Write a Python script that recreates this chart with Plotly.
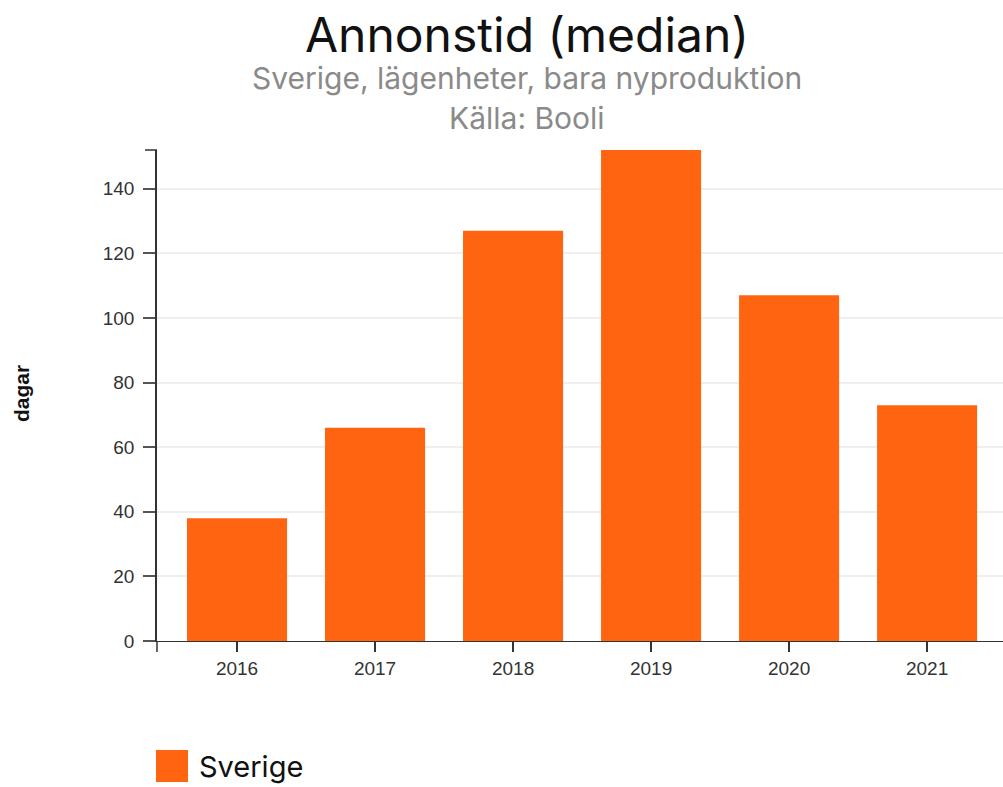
import plotly.graph_objects as go

years = ["2016", "2017", "2018", "2019", "2020", "2021"]
values = [38, 66, 127, 152, 107, 73]
series_name = "Sverige"
y_ticks = [0, 20, 40, 60, 80, 100, 120, 140]

title_text = "Annonstid (median)"
subtitle_1 = "Sverige, lägenheter, bara nyproduktion"
subtitle_2 = "Källa: Booli"
y_title = "dagar"

orange = "#ff6410"
head_font = "Inter, Open Sans, sans-serif"
tick_font = "Liberation Sans, Arial, sans-serif"

fig = go.Figure()
fig.add_trace(go.Bar(
    x=years, y=values, name=series_name, marker_color=orange,
    marker_line_width=0, width=0.725, showlegend=False,
))

annotations = [
    dict(text=title_text, x=0.437, y=1.236, xref="paper", yref="paper",
         xanchor="center", yanchor="middle", showarrow=False,
         font=dict(family=head_font, size=48, color="#111")),
    dict(text=subtitle_1, x=0.437, y=1.146, xref="paper", yref="paper",
         xanchor="center", yanchor="middle", showarrow=False,
         font=dict(family=head_font, size=30, color="#8a8a8a")),
    dict(text=subtitle_2, x=0.437, y=1.066, xref="paper", yref="paper",
         xanchor="center", yanchor="middle", showarrow=False,
         font=dict(family=head_font, size=30, color="#8a8a8a")),
    dict(text=y_title, x=-0.1608, y=0.505, xref="paper", yref="paper",
         xanchor="center", yanchor="middle", showarrow=False, textangle=-90,
         font=dict(family=tick_font, size=21, color="#111", weight="bold")),
    # legend label
    dict(text=series_name, x=0.0473, y=-0.2546, xref="paper", yref="paper",
         xanchor="left", yanchor="middle", showarrow=False,
         font=dict(family=head_font, size=29, color="#111")),
]

shapes = [
    # legend swatch
    dict(type="rect", xref="paper", yref="paper",
         xsizemode="pixel", xanchor=0, x0=-1, x1=31,
         ysizemode="pixel", yanchor=-0.2546, y0=-16, y1=16,
         fillcolor=orange, line=dict(width=0)),
    # y-axis outer tick at the top
    dict(type="line", xref="paper", yref="paper",
         xsizemode="pixel", xanchor=0, x0=-12, x1=0, y0=1, y1=1,
         line=dict(color="#333", width=1.5)),
    # x-axis outer tick at the left end
    dict(type="line", xref="paper", yref="paper",
         ysizemode="pixel", yanchor=0, y0=-11, y1=0, x0=0, x1=0,
         line=dict(color="#333", width=1.5)),
]

fig.update_layout(
    width=1003, height=787,
    margin=dict(l=157, r=0, t=150, b=146),
    paper_bgcolor="white", plot_bgcolor="white",
    showlegend=False,
    font=dict(family=tick_font, size=19, color="#333"),
    xaxis=dict(
        type="category", range=[-0.58, 5.55],
        showline=True, linecolor="#333", linewidth=1,
        ticks="outside", ticklen=10, tickcolor="#333", tickwidth=1.5,
        tickfont=dict(family=tick_font, size=19, color="#333"),
        showgrid=False,
    ),
    yaxis=dict(
        range=[0, 152], tickvals=y_ticks,
        showline=True, linecolor="#333", linewidth=1.5,
        ticks="outside", ticklen=12, tickcolor="#555", tickwidth=1.5,
        tickfont=dict(family=tick_font, size=19, color="#333"),
        ticklabelstandoff=5,
        showgrid=True, gridcolor="#efefef", gridwidth=2,
        zeroline=False,
    ),
    annotations=annotations,
    shapes=shapes,
)

fig.write_html("out.html", config={"displayModeBar": False},
               post_script="document.body.style.margin='0';")
